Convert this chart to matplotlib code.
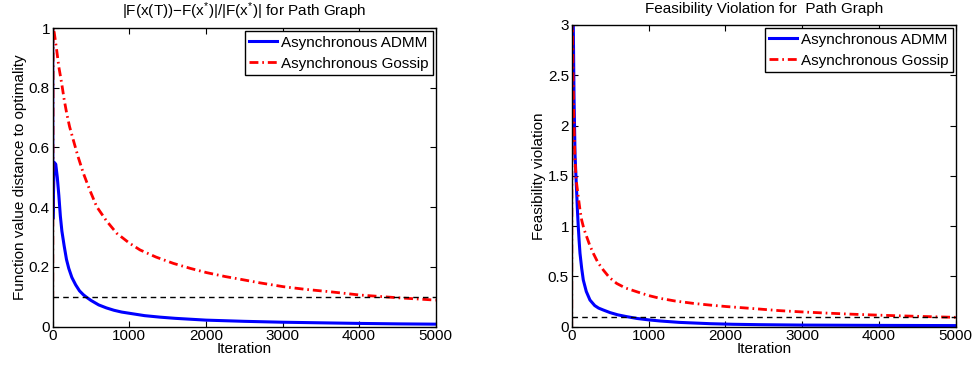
import matplotlib
matplotlib.use("Agg")
import matplotlib.pyplot as plt

plt.rcParams['font.family'] = ['Liberation Sans', 'DejaVu Sans']
plt.rcParams['mathtext.fontset'] = 'custom'
plt.rcParams['mathtext.rm'] = 'Liberation Sans'
plt.rcParams['mathtext.it'] = 'Liberation Sans'

# ---- data: left panel (relative function value error) ----
left_admm_x = [0, 2, 20, 40, 60, 80, 100, 120, 150, 180, 210, 250, 300, 350, 400, 450, 500, 600,
               700, 800, 900, 1000, 1200, 1400, 1600, 1800, 2000, 2500, 3000, 3500, 4000, 4500, 5000]
left_admm_y = [1.0, 0.36, 0.55, 0.544, 0.50, 0.44, 0.37, 0.32, 0.27, 0.225, 0.195, 0.165, 0.14, 0.12,
               0.107, 0.097, 0.088, 0.073, 0.063, 0.055, 0.049, 0.045, 0.037, 0.032, 0.028, 0.025,
               0.022, 0.018, 0.015, 0.013, 0.011, 0.0095, 0.0085]
left_gossip_x = [0, 5, 20, 50, 80, 117, 150, 183, 220, 269, 330, 400, 480, 574, 700, 835, 1000, 1140,
                 1350, 1575, 1800, 2010, 2250, 2446, 2700, 3010, 3300, 3620, 4012, 4500, 5000]
left_gossip_y = [0.09, 1.0, 0.985, 0.93, 0.87, 0.815, 0.76, 0.714, 0.67, 0.625, 0.57, 0.514, 0.46,
                 0.402, 0.355, 0.313, 0.28, 0.257, 0.233, 0.212, 0.195, 0.181, 0.168, 0.159, 0.147,
                 0.134, 0.125, 0.117, 0.106, 0.097, 0.089]

# ---- data: right panel (feasibility violation) ----
right_admm_x = [0, 15, 21, 30, 43, 55, 65, 75, 86, 97, 108, 130, 151, 190, 238, 300, 350, 411, 500,
                600, 716, 850, 1000, 1150, 1400, 1801, 2100, 2452, 3000, 4000, 5000]
right_admm_y = [3.5, 3.2, 2.98, 2.3, 1.72, 1.5, 1.33, 1.15, 0.99, 0.85, 0.73, 0.58, 0.464, 0.35,
                0.265, 0.21, 0.185, 0.166, 0.14, 0.118, 0.10, 0.082, 0.068, 0.057, 0.043, 0.030,
                0.024, 0.020, 0.016, 0.013, 0.011]
right_gossip_x = [0, 5, 17, 30, 43, 60, 86, 110, 130, 160, 195, 235, 281, 340, 411, 490, 586, 700,
                  846, 1000, 1150, 1350, 1583, 1800, 2018, 2250, 2452, 2700, 2973, 3300, 3624, 3950,
                  4275, 4650, 5000]
right_gossip_y = [0.0, 3.5, 2.5, 2.0, 1.66, 1.45, 1.29, 1.15, 1.06, 0.97, 0.895, 0.81, 0.73, 0.64,
                  0.564, 0.49, 0.43, 0.385, 0.348, 0.31, 0.282, 0.255, 0.232, 0.215, 0.2, 0.187,
                  0.175, 0.16, 0.148, 0.136, 0.125, 0.116, 0.108, 0.1, 0.093]

threshold = 0.1
x_ticks = [0, 1000, 2000, 3000, 4000, 5000]
left_yticks = [0, 0.2, 0.4, 0.6, 0.8, 1]
left_ytick_labels = ["0", "0.2", "0.4", "0.6", "0.8", "1"]
right_yticks = [0, 0.5, 1, 1.5, 2, 2.5, 3]
right_ytick_labels = ["0", "0.5", "1", "1.5", "2", "2.5", "3"]

legend_labels = ["Asynchronous ADMM", "Asynchronous Gossip"]
left_title = r"|F(x(T))$-$F(x$^{*}$)|/|F(x$^{*}$)| for Path Graph"
right_title = "Feasibility Violation for  Path Graph"

W, H = 973, 366
fig = plt.figure(figsize=(W / 100, H / 100), dpi=100)
FS = 11

ax1 = fig.add_axes([52.7 / W, (H - 326.7) / H, 383 / W, 298.7 / H])
ax2 = fig.add_axes([571.7 / W, (H - 326.7) / H, 384 / W, 301.7 / H])

dashdot = (0, (3.2, 1.4, 0.6, 1.4))

def style(ax, yticks, ylabels, ymax, ylabel, title):
    ax.set_xlim(0, 5000)
    ax.set_ylim(0, ymax)
    ax.set_xticks(x_ticks)
    ax.set_xticklabels([str(t) for t in x_ticks], fontsize=FS)
    ax.set_yticks(yticks)
    ax.set_yticklabels(ylabels, fontsize=FS)
    ax.tick_params(direction='in', top=True, right=True, length=4, width=0.8, pad=2)
    for s in ax.spines.values():
        s.set_linewidth(1.0)
    ax.set_xlabel("Iteration", fontsize=FS, labelpad=-1)
    ax.set_ylabel(ylabel, fontsize=FS, labelpad=1)
    ax.set_title(title, fontsize=FS, pad=8.5)

ax1.plot(left_admm_x, left_admm_y, color='#0000ff', lw=2.2, label=legend_labels[0])
ax1.plot(left_gossip_x, left_gossip_y, color='#ff0000', lw=2.0, linestyle=dashdot, label=legend_labels[1])
ax1.plot([0, 5000], [threshold, threshold], color='black', lw=1.0, linestyle=(0, (4, 3)))
style(ax1, left_yticks, left_ytick_labels, 1, "Function value distance to optimality", left_title)

ax2.plot(right_admm_x, right_admm_y, color='#0000ff', lw=2.2, label=legend_labels[0])
ax2.plot(right_gossip_x, right_gossip_y, color='#ff0000', lw=2.0, linestyle=dashdot, label=legend_labels[1])
ax2.plot([0, 5000], [threshold, threshold], color='black', lw=1.0, linestyle=(0, (4, 3)))
style(ax2, right_yticks, right_ytick_labels, 3, "Feasibility violation", right_title)

for ax in (ax1, ax2):
    leg = ax.legend(loc='upper right', fontsize=FS, frameon=True, fancybox=False,
                    edgecolor='black', framealpha=1, borderpad=0.3, labelspacing=0.45,
                    handlelength=1.8, handletextpad=0.25, borderaxespad=0.2)
    leg.get_frame().set_linewidth(1.0)

fig.savefig("out.png", dpi=100)
